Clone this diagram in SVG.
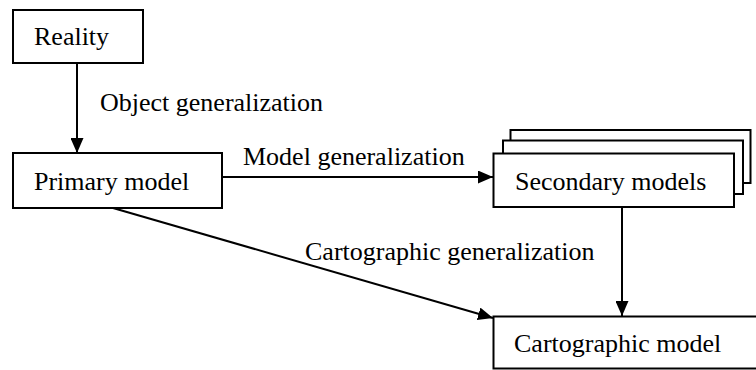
<svg xmlns="http://www.w3.org/2000/svg" width="756" height="370" viewBox="0 0 756 370">
<style>
.box{fill:#fff;stroke:#000;stroke-width:2}
.lbl{font-family:"Liberation Serif","Times New Roman",serif;font-size:26px;fill:#000}
.conn{stroke:#000;stroke-width:2;fill:none;marker-end:url(#arr)}
</style>
<defs>
<marker id="arr" markerUnits="userSpaceOnUse" markerWidth="16" markerHeight="13" refX="15" refY="6.5" orient="auto" viewBox="0 0 16 13">
<path d="M0,0 L15,6.5 L0,13 z" fill="#000"/>
</marker>
</defs>
<rect width="756" height="370" fill="#fff"/>
<g id="connectors">
<line class="conn" x1="77" y1="63" x2="77" y2="153"/>
<line class="conn" x1="222" y1="177" x2="493" y2="177"/>
<line class="conn" x1="622" y1="207" x2="622" y2="316"/>
<line class="conn" x1="113" y1="208" x2="493" y2="318"/>
<text class="lbl" x="100" y="111">Object generalization</text>
<text class="lbl" x="243" y="165">Model generalization</text>
<text class="lbl" x="305" y="260">Cartographic generalization</text>
</g>
<g id="reality">
<rect class="box" x="13" y="10" width="130" height="53"/>
<text class="lbl" x="34" y="45">Reality</text>
</g>
<g id="primary">
<rect class="box" x="13" y="153" width="209" height="55"/>
<text class="lbl" x="34" y="190">Primary model</text>
</g>
<g id="secondary">
<rect class="box" x="510.5" y="130" width="240" height="53"/>
<rect class="box" x="503" y="140.5" width="240" height="53.5"/>
<rect class="box" x="493.5" y="153.5" width="240.5" height="53.5"/>
<text class="lbl" x="515" y="190">Secondary models</text>
</g>
<g id="cartographic">
<rect class="box" x="493.5" y="316.5" width="270" height="52"/>
<text class="lbl" x="514" y="352">Cartographic model</text>
</g>
</svg>
